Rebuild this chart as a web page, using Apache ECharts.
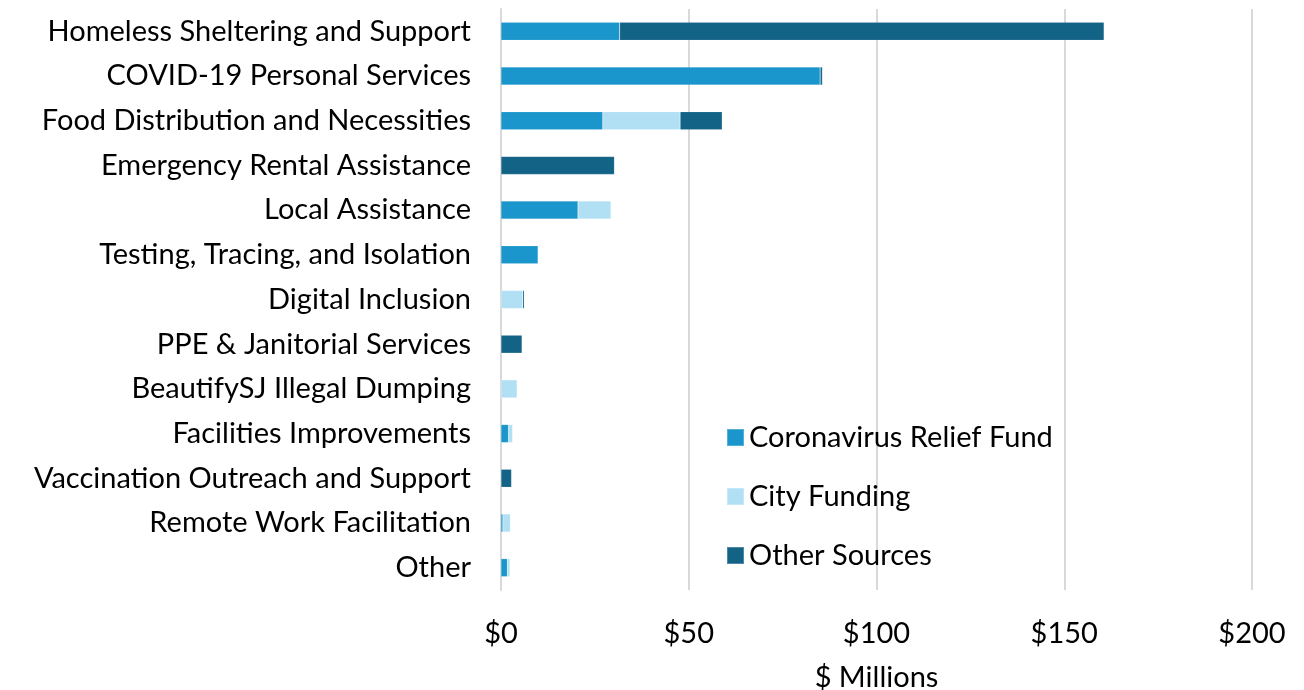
<!DOCTYPE html>
<html>
<head>
<meta charset="utf-8">
<script src="https://cdn.jsdelivr.net/npm/echarts@6/dist/echarts.min.js"></script>
<style>html,body{margin:0;padding:0;background:#fff}#c{width:1304px;height:690px}</style>
</head>
<body>
<div id="c"></div>
<script>
const categories = ["Homeless Sheltering and Support","COVID-19 Personal Services","Food Distribution and Necessities","Emergency Rental Assistance","Local Assistance","Testing, Tracing, and Isolation","Digital Inclusion","PPE & Janitorial Services","BeautifySJ Illegal Dumping","Facilities Improvements","Vaccination Outreach and Support","Remote Work Facilitation","Other"];
const coronavirusRelief = [31.6, 85.0, 27.1, 0, 20.5, 9.9, 0, 0, 0, 2.0, 0, 0.5, 1.7];
const cityFunding = [0, 0, 20.6, 0, 8.8, 0, 5.8, 0, 4.3, 1.1, 0, 2.0, 0.7];
const otherSources = [129.0, 0.6, 11.2, 30.2, 0, 0, 0.4, 5.6, 0, 0, 2.8, 0, 0];
const xTicks = [0, 50, 100, 150, 200];

const FONT = 'Lato';
const FS = 29;
const chart = echarts.init(document.getElementById('c'));
const mk = (name, data, color) => ({
  name, type: 'bar', stack: 'total', data, barWidth: 18,
  itemStyle: { color, borderColor: 'rgba(255,255,255,0.25)', borderWidth: 0.5 },
  emphasis: { disabled: true }
});
chart.setOption({
  animation: false,
  textStyle: { fontFamily: FONT },
  grid: { left: 501, right: 52, top: 9, bottom: 100, containLabel: false, outerBoundsMode: 'none' },
  xAxis: {
    type: 'value', min: 0, max: 200, interval: 50,
    name: '$ Millions', nameLocation: 'middle', nameGap: 73,
    nameTextStyle: { fontSize: FS, color: '#000', fontFamily: FONT },
    axisLabel: { fontSize: FS, color: '#000', margin: 29, fontFamily: FONT,
      formatter: v => xTicks.includes(v) ? '$' + v : '' },
    axisLine: { show: false }, axisTick: { show: false },
    splitLine: { show: true, lineStyle: { color: '#d9d9d9', width: 2 } }
  },
  yAxis: {
    type: 'category', data: categories, inverse: true,
    axisLabel: { fontSize: FS, color: '#000', margin: 30, fontFamily: FONT },
    axisLine: { show: true, lineStyle: { color: '#d9d9d9', width: 2 } },
    axisTick: { show: false }
  },
  legend: {
    orient: 'vertical', left: 721, top: 418, itemGap: 30,
    itemWidth: 17, itemHeight: 17, icon: 'rect',
    textStyle: { fontSize: FS, color: '#000', fontFamily: FONT, padding: [0, 0, 0, 0] },
    data: ['Coronavirus Relief Fund', 'City Funding', 'Other Sources']
  },
  series: [
    mk('Coronavirus Relief Fund', coronavirusRelief, '#1b96cc'),
    mk('City Funding', cityFunding, '#b1e0f5'),
    mk('Other Sources', otherSources, '#136387')
  ]
});
</script>
</body>
</html>
